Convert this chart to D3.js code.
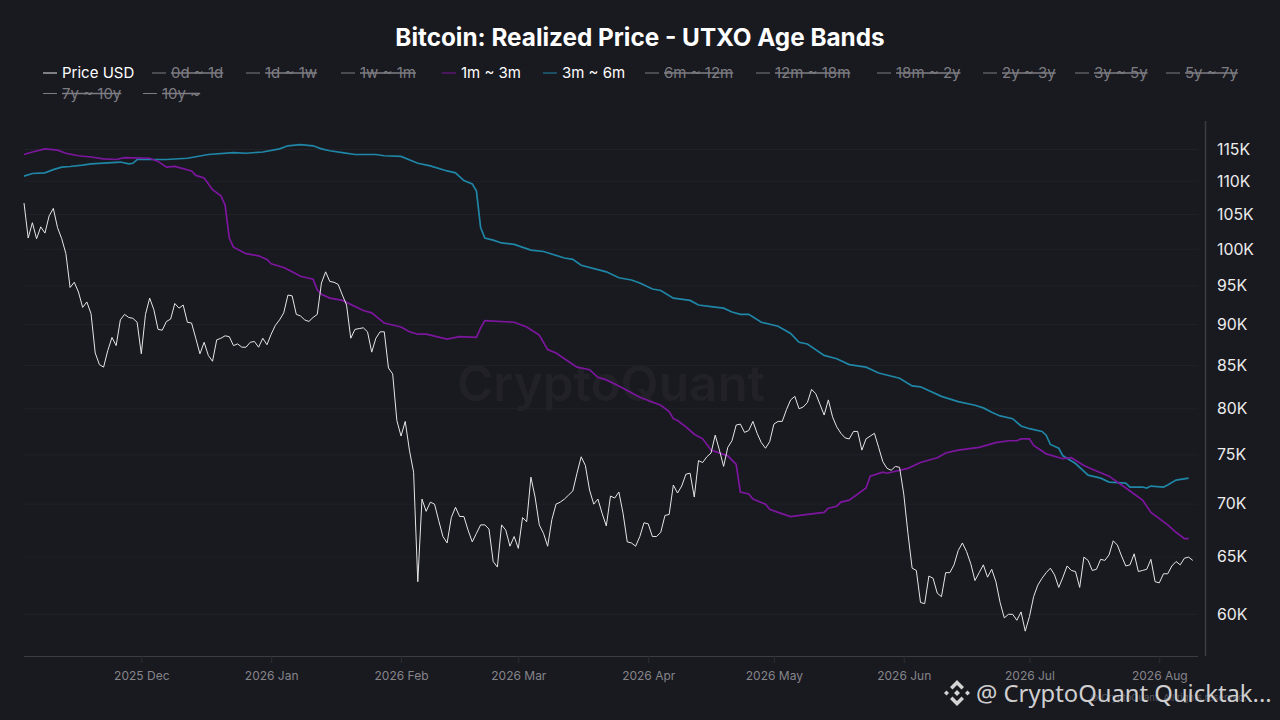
<!DOCTYPE html>
<html>
<head>
<meta charset="utf-8">
<style>
  html, body { margin: 0; padding: 0; background: #191920; }
  svg { display: block; }
  text { font-family: Inter, sans-serif; }
</style>
<script src="https://cdn.jsdelivr.net/npm/d3@7"></script>
</head>
<body>
<svg id="chart" width="1280" height="720"></svg>
<script>
const START_DATE = new Date(2025, 10, 3);

// daily close, thousands of USD
const priceUsd = [
  106.7,101.6,103.8,101.5,103.2,102.3,104.8,105.9,103.1,101.5,99.4,94.8,95.5,94.2,92.2,92.9,91.4,86.5,85.1,84.8,
  86.8,88.4,87.4,90.6,91.3,90.9,90.8,90.3,86.4,91.3,93.4,91.9,89.4,89.3,90.4,90.7,92.7,92.1,92.5,90.3,
  90.2,88.3,86.4,87.8,86.2,85.5,88.1,88.3,88.6,88.5,87.4,87.6,87.2,87.2,87.8,87.9,87.2,88.3,87.5,88.8,
  89.9,90.6,91.5,93.8,93.7,91.3,91.1,90.6,90.4,90.9,91.3,
  95.4,96.9,95.6,95.5,95.2,93.8,92.5,88.3,89.4,89.5,89.6,89.1,86.6,88.3,89.1,89.1,84.7,84.0,78.7,77.0,
  78.6,75.5,73.2,62.8,70.5,69.3,70.2,70.0,68.4,66.9,66.3,68.7,69.7,68.8,68.8,67.5,66.4,67.2,68.0,68.0,
  67.6,64.6,64.1,68.0,67.5,66.0,66.9,65.8,68.7,68.3,72.7,70.7,68.0,67.2,66.0,68.5,70.0,70.2,70.5,70.9,
  71.3,73.1,74.8,73.9,
  71.4,70.0,70.5,69.1,67.9,70.8,70.6,71.2,69.1,66.4,66.3,66.0,66.9,68.2,68.1,66.9,66.9,67.3,68.9,69.0,
  71.9,71.1,71.8,73.0,73.1,70.7,74.4,74.2,74.8,75.2,77.1,75.5,73.8,75.8,76.5,78.2,78.3,77.4,77.6,78.6,
  77.3,76.3,75.7,76.4,78.3,78.6,78.6,79.9,81.0,81.4,80.0,80.2,80.7,82.2,81.7,80.5,79.3,81.0,79.1,78.0,
  77.3,76.8,76.7,77.5,77.5,75.5,76.7,77.0,77.3,75.8,74.3,73.6,73.4,73.8,73.7,71.0,67.2,64.0,63.8,61.0,
  60.9,63.3,63.1,61.8,61.5,63.6,63.6,64.3,65.6,66.3,65.5,64.4,62.9,63.6,64.3,63.2,63.9,62.8,61.0,59.7,
  60.0,60.0,59.5,60.2,58.6,59.8,61.5,62.5,63.1,63.6,64.0,63.4,62.3,63.2,64.2,63.8,63.7,62.3,65.0,64.7,
  63.8,63.9,64.8,64.7,65.2,66.5,66.1,65.1,64.2,64.3,65.3,63.7,63.8,63.9,64.8,62.8,62.7,63.5,63.5,64.2,
  64.6,64.3,64.9,65.0,64.7
];

const band1m3mDays = [
  0,2,5,8,10,13,16,19,22,24,30,32,34,36,40,41,43,45,47,48,49,50,53,56,58,59,62,64,66,69,70,71,73,76,81,83,86,90,92,94,96,
  101,104,108,109,110,117,120,123,125,127,132,135,137,139,142,147,152,154,155,156,158,160,162,164,168,170,171,173,174,177,
  178,180,183,187,191,192,194,195,197,201,202,205,206,211,214,218,220,223,228,232,235,237,238,240,241,243,244,248,250,253,
  255,259,263,265,267,269,273,275,277,278
];
const band1m3mValues = [
  114.2,114.6,115.1,114.9,114.4,114.0,113.8,113.5,113.4,113.7,113.6,113.1,112.2,112.3,111.6,110.9,110.5,108.7,107.8,106.4,
  101.6,100.3,99.4,99.1,98.6,98.0,97.5,96.9,96.3,95.9,94.5,93.9,93.4,93.1,91.8,91.5,90.2,89.7,89.1,88.8,88.8,
  88.2,88.5,88.4,89.6,90.5,90.3,89.7,88.7,86.9,86.5,84.8,84.5,83.6,83.3,82.6,81.3,80.4,79.7,78.9,78.7,78.0,77.2,76.7,75.5,
  74.9,74.0,71.2,71.0,70.5,70.0,69.5,69.2,68.8,69.0,69.2,69.6,69.8,70.2,70.4,71.6,72.8,73.2,73.1,73.6,74.2,74.7,75.2,75.5,
  75.8,76.3,76.5,76.5,76.7,76.7,76.0,75.4,75.1,74.6,74.7,73.9,73.5,72.8,71.6,71.0,70.4,69.2,68.0,67.3,66.7,66.7
];

const band3m6mDays = [
  0,2,5,7,9,11,14,16,23,25,26,27,34,39,44,50,53,57,61,63,66,69,71,73,76,79,84,86,90,94,97,101,103,105,107,108,109,110,112,
  114,117,121,124,129,131,133,139,142,145,147,150,152,155,159,161,164,167,169,171,173,176,180,183,185,187,191,194,197,201,
  204,209,212,214,219,223,227,229,231,233,236,238,240,243,244,245,247,248,251,254,257,259,263,264,267,268,269,272,273,275,278
];
const band3m6mValues = [
  110.8,111.2,111.3,111.8,112.2,112.3,112.5,112.7,113.0,112.7,112.8,113.4,113.4,113.6,114.2,114.5,114.4,114.6,115.1,115.6,
  115.8,115.6,115.1,114.8,114.5,114.2,114.2,114.0,113.9,112.8,112.4,111.6,111.3,110.1,109.6,108.5,103.1,101.6,101.3,
  100.9,100.7,99.9,99.7,98.8,98.6,97.8,96.9,96.1,95.8,95.4,94.6,94.4,93.4,93.1,92.5,92.3,92.1,91.6,91.3,91.3,90.3,89.8,
  88.9,87.8,87.6,86.2,85.8,85.1,84.8,84.1,83.5,82.6,82.5,81.4,80.8,80.4,80.1,79.6,79.2,78.9,78.1,77.8,77.5,77.1,76.1,75.7,
  74.9,74.1,72.9,72.6,72.2,72.1,71.7,71.7,71.6,71.8,71.7,71.9,72.4,72.6
];

const yTicks = [60, 65, 70, 75, 80, 85, 90, 95, 100, 105, 110, 115];
const monthTicks = [
  new Date(2025, 11, 1), new Date(2026, 0, 1), new Date(2026, 1, 1), new Date(2026, 2, 1), new Date(2026, 3, 1),
  new Date(2026, 4, 1), new Date(2026, 5, 1), new Date(2026, 6, 1), new Date(2026, 7, 1)
];
const legendRow1 = ['Price USD', '0d ~ 1d', '1d ~ 1w', '1w ~ 1m', '1m ~ 3m', '3m ~ 6m', '6m ~ 12m', '12m ~ 18m', '18m ~ 2y', '2y ~ 3y', '3y ~ 5y', '5y ~ 7y'];
const legendRow2 = ['7y ~ 10y', '10y ~'];

const COLORS = { 'Price USD': '#e6e6e6', '1m ~ 3m': '#7d169e', '3m ~ 6m': '#1f86a6' };
const OFF_COLOR = '#7d7d82';

// legend layout, left edge of each item
const LEGEND_X1 = [43, 152, 246, 341, 442, 543, 645, 756, 877, 983, 1075, 1166];
const LEGEND_X2 = [43, 143];

const plotLeft = 24, plotRight = 1197, plotTop = 121, plotBottom = 656;

const svg = d3.select('#chart');

const x = d3.scaleTime()
  .domain([START_DATE, d3.timeDay.offset(START_DATE, 280)])
  .range([plotLeft, plotRight]);

const y = d3.scaleLog().domain([60, 115]).range([614.3, 149.5]);

svg.append('text')
  .attr('x', 640).attr('y', 46)
  .attr('text-anchor', 'middle')
  .attr('font-size', 24.3).attr('font-weight', 700)
  .attr('fill', '#ffffff')
  .text('Bitcoin: Realized Price - UTXO Age Bands');

function drawLegend(names, starts, rowY) {
  names.forEach((name, i) => {
    const on = COLORS[name] !== undefined;
    const g = svg.append('g').attr('transform', `translate(${starts[i]},${rowY})`);
    g.append('line')
      .attr('x1', 0).attr('x2', 14)
      .attr('stroke', on ? COLORS[name] : OFF_COLOR)
      .attr('stroke-width', 1);
    g.append('text')
      .attr('x', 19).attr('y', 5)
      .attr('font-size', 15)
      .attr('fill', on ? '#ffffff' : OFF_COLOR)
      .style('text-decoration', on ? 'none' : 'line-through')
      .text(name);
  });
}
drawLegend(legendRow1, LEGEND_X1, 73);
drawLegend(legendRow2, LEGEND_X2, 93.5);

// grid
svg.append('g').selectAll('line')
  .data(yTicks)
  .join('line')
  .attr('x1', plotLeft).attr('x2', plotRight + 1)
  .attr('y1', d => y(d)).attr('y2', d => y(d))
  .attr('stroke', '#212228').attr('stroke-width', 1);

svg.append('text')
  .attr('x', 611).attr('y', 401)
  .attr('text-anchor', 'middle')
  .attr('font-size', 49.4).attr('font-weight', 600)
  .attr('fill', '#212127')
  .text('CryptoQuant');

// x axis
const xAxis = svg.append('g')
  .attr('transform', `translate(0,${plotBottom})`)
  .call(d3.axisBottom(x).tickValues(monthTicks).tickFormat(d3.timeFormat('%Y %b')).tickSize(7).tickPadding(8));
xAxis.select('.domain').attr('d', `M${plotLeft},0.5H${plotRight + 1}`).attr('stroke', '#3c3d43');
xAxis.selectAll('.tick line').attr('stroke', '#2c2d33');
xAxis.selectAll('.tick text')
  .attr('font-family', 'Inter, sans-serif').attr('font-size', 12).attr('fill', '#85858a');

// y axis
const yAxis = svg.append('g')
  .attr('transform', 'translate(1205,0)')
  .call(d3.axisRight(y).tickValues(yTicks).tickFormat(d => d + 'K').tickSize(0).tickPadding(12));
yAxis.select('.domain').attr('d', `M0.5,${plotTop}V${plotBottom}`).attr('stroke', '#3c3d43').attr('stroke-width', 1.5);
yAxis.selectAll('.tick text')
  .attr('font-family', 'Inter, sans-serif').attr('font-size', 15.8).attr('fill', '#ececec').attr('dy', '0.3em');

const line = d3.line().x(d => x(d[0])).y(d => y(d[1]));
const atDay = n => d3.timeDay.offset(START_DATE, n);

svg.append('path')
  .datum(band3m6mDays.map((d, i) => [atDay(d), band3m6mValues[i]]))
  .attr('d', line).attr('fill', 'none')
  .attr('stroke', COLORS['3m ~ 6m']).attr('stroke-width', 1.7);

svg.append('path')
  .datum(band1m3mDays.map((d, i) => [atDay(d), band1m3mValues[i]]))
  .attr('d', line).attr('fill', 'none')
  .attr('stroke', COLORS['1m ~ 3m']).attr('stroke-width', 1.7);

svg.append('path')
  .datum(priceUsd.map((v, i) => [atDay(i), v]))
  .attr('d', line).attr('fill', 'none')
  .attr('stroke', COLORS['Price USD']).attr('stroke-width', 1);

// footer, the credit sits under the stamp in the original too
svg.append('text')
  .attr('x', 1090).attr('y', 701)
  .attr('font-size', 9.4).attr('fill', '#55555b')
  .text('© CryptoQuant. All rights reserved.');

const logo = svg.append('g').attr('transform', 'translate(957,693)').attr('fill', '#d4d4d4');
logo.append('path').attr('d', 'M0,-13L7,-6L4.5,-3.5L0,-8L-4.5,-3.5L-7,-6Z');
logo.append('path').attr('d', 'M0,13L7,6L4.5,3.5L0,8L-4.5,3.5L-7,6Z');
logo.append('path').attr('d', 'M-13,0L-10.5,-2.5L-8,0L-10.5,2.5Z');
logo.append('path').attr('d', 'M13,0L10.5,-2.5L8,0L10.5,2.5Z');
logo.append('path').attr('d', 'M0,-3L3,0L0,3L-3,0Z');

svg.append('text')
  .attr('x', 976).attr('y', 702)
  .style('font-family', '"Noto Sans", sans-serif')
  .attr('font-size', 23.8).attr('fill', '#cfcfcf')
  .text('@ CryptoQuant Quicktak...');
</script>
</body>
</html>
